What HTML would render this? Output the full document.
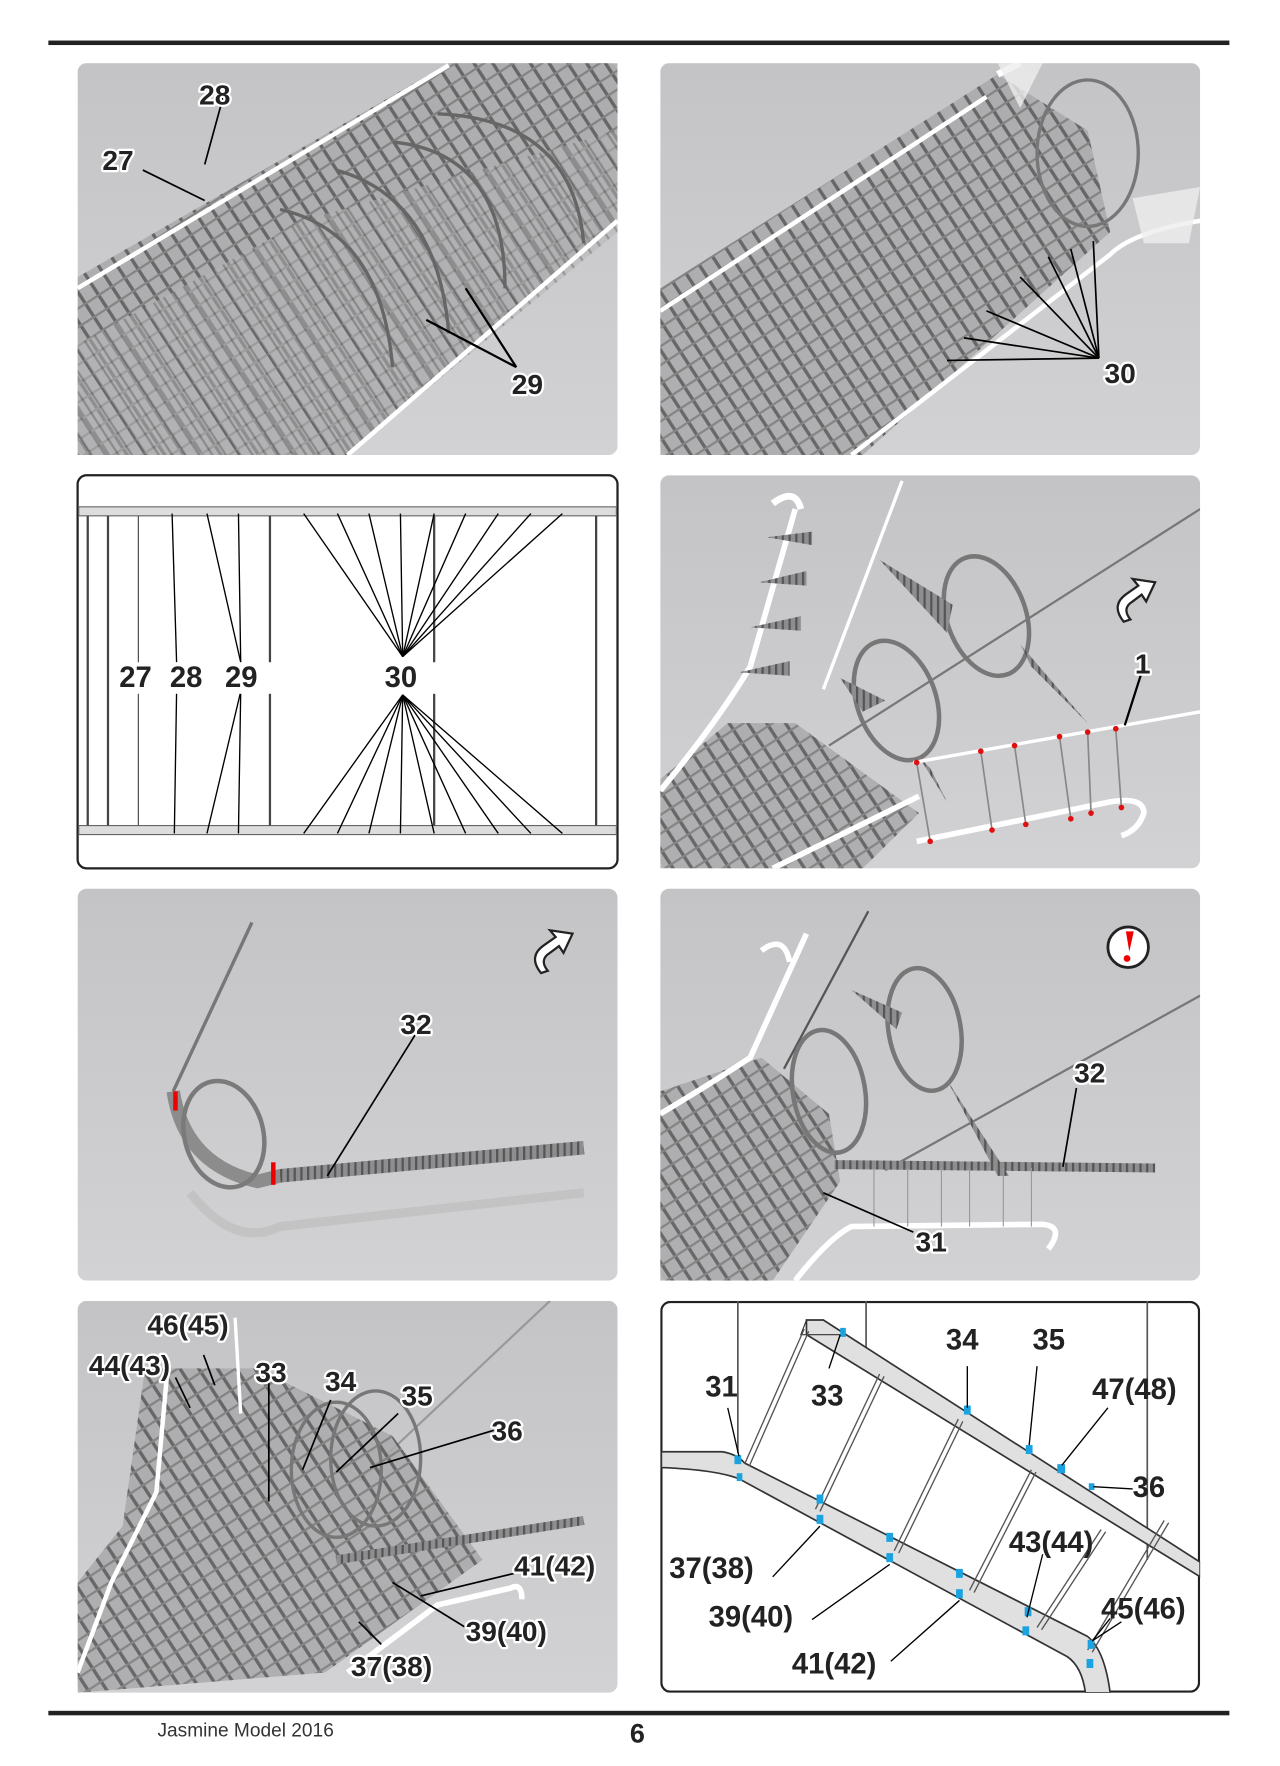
<!DOCTYPE html>
<html><head><meta charset="utf-8"><style>
html,body{margin:0;padding:0;background:#fff;}
svg{display:block;}
.lb{font-family:"Liberation Sans",sans-serif;font-weight:bold;font-size:25px;fill:#222;stroke:#fff;stroke-width:4px;paint-order:stroke;stroke-linejoin:round;}
.dl{font-family:"Liberation Sans",sans-serif;font-weight:bold;font-size:26px;fill:#222;}
</style></head><body>
<svg width="1280" height="1766" viewBox="0 0 1138 1568" preserveAspectRatio="none" xmlns="http://www.w3.org/2000/svg">
<defs>
<linearGradient id="bg" x1="0" y1="0" x2="0" y2="1"><stop offset="0" stop-color="#c4c4c6"/><stop offset="1" stop-color="#d2d2d4"/></linearGradient>
<pattern id="h1" width="14" height="14" patternUnits="userSpaceOnUse" patternTransform="rotate(-33)"><rect width="14" height="14" fill="#a9a9ab"/><rect x="0" width="3" height="14" fill="#555"/><rect y="0" width="14" height="2" fill="#777"/></pattern>
<pattern id="h2" width="10" height="10" patternUnits="userSpaceOnUse" patternTransform="rotate(-33)"><rect width="10" height="10" fill="#b4b4b6"/><rect x="0" width="2" height="10" fill="#666"/></pattern>
<pattern id="tr" width="6" height="6" patternUnits="userSpaceOnUse"><rect width="6" height="6" fill="#8e8e90"/><rect width="2" height="6" fill="#555"/></pattern>
</defs>
<rect width="1138" height="1568" fill="#fff"/>
<rect x="43" y="36" width="1050" height="4" fill="#222"/>
<rect x="43" y="1519" width="1050" height="4" fill="#222"/>
<text x="140" y="1542" font-family="Liberation Sans,sans-serif" font-size="17" fill="#333">Jasmine Model 2016</text>
<text x="560" y="1547" font-family="Liberation Sans,sans-serif" font-weight="bold" font-size="24" fill="#222">6</text>

<!-- Panel 1 -->
<svg x="69" y="56" width="480" height="348" viewBox="0 0 480 348">
<rect width="480" height="348" rx="8" fill="url(#bg)"/>
<polygon points="0,190 330,0 480,0 480,140 240,348 0,348" fill="url(#h1)" opacity="0.85"/>
<polygon points="0,250 200,140 480,60 480,150 240,348 0,348" fill="url(#h2)" opacity="0.5"/>
<path d="M0,200 L330,2" stroke="#fff" stroke-width="4"/>
<path d="M240,348 L480,140" stroke="#fff" stroke-width="4"/>
<g fill="none" stroke="#666" stroke-width="3">
<path d="M230,95 Q320,120 330,240"/><path d="M280,70 Q380,80 380,200"/><path d="M320,45 Q440,50 450,160"/><path d="M180,130 Q270,150 280,270"/>
</g>
<line x1="113" y1="90" x2="130" y2="28" stroke="#000" stroke-width="1.5"/>
<line x1="58" y1="95" x2="113" y2="122" stroke="#000" stroke-width="1.5"/>
<line x1="310" y1="228" x2="390" y2="270" stroke="#000" stroke-width="2"/>
<line x1="345" y1="200" x2="390" y2="270" stroke="#000" stroke-width="2"/>
<text class="lb" x="108" y="37">28</text>
<text class="lb" x="22" y="95">27</text>
<text class="lb" x="386" y="294">29</text>
</svg>

<!-- Panel 2 -->
<svg x="587" y="56" width="480" height="348" viewBox="0 0 480 348">
<rect width="480" height="348" rx="8" fill="url(#bg)"/>
<polygon points="0,200 300,10 380,60 400,150 180,348 0,348" fill="url(#h1)" opacity="0.85"/>
<path d="M0,220 L290,30" stroke="#fff" stroke-width="4"/>
<path d="M300,10 L320,0" stroke="#fff" stroke-width="6"/>
<path d="M170,348 L400,170 Q420,150 480,140" stroke="#fff" stroke-width="4" fill="none"/>
<ellipse cx="380" cy="80" rx="45" ry="65" fill="none" stroke="#777" stroke-width="3"/>
<polygon points="300,0 340,0 320,40" fill="#eee" opacity="0.8"/><polygon points="420,120 480,110 470,160 430,160" fill="#eee" opacity="0.8"/>
<g stroke="#000" stroke-width="1.5">
<line x1="255" y1="264" x2="390" y2="262"/><line x1="270" y1="244" x2="390" y2="262"/><line x1="290" y1="220" x2="390" y2="262"/><line x1="320" y1="190" x2="390" y2="262"/><line x1="345" y1="172" x2="390" y2="262"/><line x1="365" y1="165" x2="390" y2="262"/><line x1="385" y1="158" x2="390" y2="262"/>
</g>
<text class="lb" x="395" y="284">30</text>
</svg>

<!-- Panel 3 diagram -->
<rect x="69" y="422" width="480" height="349" rx="8" fill="#fff" stroke="#222" stroke-width="2"/>
<rect x="70" y="450" width="478" height="8" fill="#ddd" stroke="#666" stroke-width="1"/>
<rect x="70" y="733" width="478" height="8" fill="#ddd" stroke="#666" stroke-width="1"/>
<g stroke="#444" stroke-width="2">
<line x1="78" y1="458" x2="78" y2="733"/><line x1="96" y1="458" x2="96" y2="733"/><line x1="240" y1="458" x2="240" y2="733"/><line x1="386" y1="458" x2="386" y2="733"/><line x1="530" y1="458" x2="530" y2="733"/>
<line x1="123" y1="458" x2="123" y2="733" stroke-width="1"/>
</g>
<g stroke="#000" stroke-width="1.2">
<line x1="157" y1="588" x2="153" y2="456"/><line x1="157" y1="614" x2="155" y2="740"/>
<line x1="214" y1="588" x2="184" y2="456"/><line x1="214" y1="588" x2="212" y2="456"/>
<line x1="214" y1="614" x2="184" y2="740"/><line x1="214" y1="614" x2="212" y2="740"/>
<g>
<line x1="358" y1="583" x2="270" y2="456"/><line x1="358" y1="583" x2="300" y2="456"/><line x1="358" y1="583" x2="328" y2="456"/><line x1="358" y1="583" x2="356" y2="456"/><line x1="358" y1="583" x2="386" y2="456"/><line x1="358" y1="583" x2="414" y2="456"/><line x1="358" y1="583" x2="443" y2="456"/><line x1="358" y1="583" x2="472" y2="456"/><line x1="358" y1="583" x2="500" y2="456"/>
<line x1="358" y1="617" x2="270" y2="740"/><line x1="358" y1="617" x2="300" y2="740"/><line x1="358" y1="617" x2="328" y2="740"/><line x1="358" y1="617" x2="356" y2="740"/><line x1="358" y1="617" x2="386" y2="740"/><line x1="358" y1="617" x2="414" y2="740"/><line x1="358" y1="617" x2="443" y2="740"/><line x1="358" y1="617" x2="472" y2="740"/><line x1="358" y1="617" x2="500" y2="740"/>
</g></g>
<rect x="105" y="588" width="290" height="28" fill="#fff"/>
<text class="dl" x="106" y="610">27</text><text class="dl" x="151" y="610">28</text><text class="dl" x="200" y="610">29</text><text class="dl" x="342" y="610">30</text>

<!-- Panel 4 -->
<svg x="587" y="422" width="480" height="349" viewBox="0 0 480 349">
<rect width="480" height="349" rx="8" fill="url(#bg)"/>
<line x1="150" y1="240" x2="480" y2="30" stroke="#777" stroke-width="2"/>
<polygon points="0,270 60,220 120,220 230,300 180,349 0,349" fill="url(#h1)" opacity="0.85"/>
<path d="M0,280 Q50,220 80,170 L120,30" stroke="#fff" stroke-width="5" fill="none"/>
<path d="M100,25 Q120,10 125,30" stroke="#fff" stroke-width="6" fill="none"/>
<path d="M145,190 L215,5" stroke="#fff" stroke-width="3"/>
<path d="M100,349 Q200,300 230,285" stroke="#fff" stroke-width="5" fill="none"/>
<ellipse cx="210" cy="200" rx="35" ry="55" fill="none" stroke="#777" stroke-width="4" transform="rotate(-20 210 200)"/>
<ellipse cx="290" cy="125" rx="35" ry="55" fill="none" stroke="#777" stroke-width="4" transform="rotate(-20 290 125)"/>
<polygon points="195,75 260,115 255,140" fill="url(#tr)"/><polygon points="320,150 380,220 330,170" fill="url(#tr)"/>
<polygon points="160,180 200,200 180,210" fill="url(#tr)"/><polygon points="230,250 255,290 240,260" fill="url(#tr)"/>
<g fill="url(#tr)"><polygon points="95,55 135,50 135,62"/><polygon points="88,95 130,85 130,98"/><polygon points="80,135 125,125 125,138"/><polygon points="70,175 115,165 115,178"/></g>
<path d="M225,255 L480,210" stroke="#fff" stroke-width="3"/>
<path d="M228,325 L400,290 Q430,285 430,300 Q425,315 410,320" stroke="#fff" stroke-width="5" fill="none"/>
<g stroke="#888" stroke-width="1.5"><line x1="228" y1="255" x2="240" y2="325"/><line x1="285" y1="245" x2="295" y2="315"/><line x1="315" y1="240" x2="325" y2="310"/><line x1="355" y1="232" x2="365" y2="305"/><line x1="380" y1="228" x2="383" y2="300"/><line x1="405" y1="225" x2="410" y2="295"/></g>
<g fill="#e01010"><circle cx="228" cy="255" r="2.5"/><circle cx="285" cy="245" r="2.5"/><circle cx="315" cy="240" r="2.5"/><circle cx="355" cy="232" r="2.5"/><circle cx="380" cy="228" r="2.5"/><circle cx="405" cy="225" r="2.5"/><circle cx="240" cy="325" r="2.5"/><circle cx="295" cy="315" r="2.5"/><circle cx="325" cy="310" r="2.5"/><circle cx="365" cy="305" r="2.5"/><circle cx="383" cy="300" r="2.5"/><circle cx="410" cy="295" r="2.5"/></g>
<line x1="413" y1="222" x2="428" y2="175" stroke="#000" stroke-width="2"/>
<text class="lb" x="422" y="176">1</text>
<path d="M412,130 Q400,115 415,105 L425,98 L420,92 L440,95 L432,112 L428,106 L420,112 Q410,118 418,128 Z" fill="#fff" stroke="#222" stroke-width="2"/>
</svg>

<!-- Panel 5 -->
<svg x="69" y="789" width="480" height="348" viewBox="0 0 480 348">
<rect width="480" height="348" rx="8" fill="url(#bg)"/>
<line x1="155" y1="30" x2="85" y2="180" stroke="#777" stroke-width="3"/>
<path d="M85,180 Q95,245 160,260 L180,255 L450,230" stroke="#8c8c8c" stroke-width="12" fill="none"/>
<path d="M180,255 L450,230" stroke="url(#tr)" stroke-width="12"/>
<ellipse cx="130" cy="218" rx="35" ry="48" fill="none" stroke="#7a7a7a" stroke-width="4" transform="rotate(-15 130 218)"/>
<path d="M100,270 Q140,320 180,300 L450,270" stroke="#bbb" stroke-width="8" fill="none" opacity="0.6"/>
<rect x="85" y="180" width="4" height="17" fill="#e00"/><rect x="172" y="243" width="4" height="20" fill="#e00"/>
<line x1="222" y1="255" x2="300" y2="130" stroke="#000" stroke-width="1.5"/>
<text class="lb" x="287" y="129">32</text>
<path d="M412,75 Q400,60 415,50 L425,43 L420,37 L440,40 L432,57 L428,51 L420,57 Q410,63 418,73 Z" fill="#fff" stroke="#222" stroke-width="2"/>
</svg>

<!-- Panel 6 -->
<svg x="587" y="789" width="480" height="348" viewBox="0 0 480 348">
<rect width="480" height="348" rx="8" fill="url(#bg)"/>
<line x1="200" y1="250" x2="480" y2="95" stroke="#777" stroke-width="2"/>
<polygon points="0,180 90,150 150,200 160,260 100,348 0,348" fill="url(#h1)" opacity="0.85"/>
<path d="M0,200 Q50,170 80,150 L130,40" stroke="#fff" stroke-width="5" fill="none"/>
<path d="M90,55 Q110,40 115,65" stroke="#fff" stroke-width="5" fill="none"/>
<path d="M110,160 L185,20" stroke="#555" stroke-width="2"/>
<ellipse cx="150" cy="180" rx="32" ry="55" fill="none" stroke="#777" stroke-width="4" transform="rotate(-10 150 180)"/>
<ellipse cx="235" cy="125" rx="32" ry="55" fill="none" stroke="#777" stroke-width="4" transform="rotate(-10 235 125)"/>
<polygon points="170,90 215,110 210,125" fill="url(#tr)"/><polygon points="255,170 310,255 300,255" fill="url(#tr)"/>
<path d="M155,245 L440,248" stroke="url(#tr)" stroke-width="8"/>
<path d="M120,348 Q150,310 170,300 L340,298 Q360,300 345,320" stroke="#fff" stroke-width="5" fill="none"/>
<g stroke="#999" stroke-width="1"><line x1="190" y1="248" x2="190" y2="300"/><line x1="220" y1="248" x2="220" y2="300"/><line x1="250" y1="248" x2="250" y2="300"/><line x1="275" y1="248" x2="275" y2="300"/><line x1="305" y1="248" x2="305" y2="300"/><line x1="330" y1="248" x2="330" y2="300"/></g>
<line x1="358" y1="247" x2="370" y2="177" stroke="#000" stroke-width="1.5"/>
<line x1="145" y1="270" x2="225" y2="305" stroke="#000" stroke-width="1.5"/>
<text class="lb" x="368" y="172">32</text>
<text class="lb" x="227" y="322">31</text>
<circle cx="416" cy="52" r="18" fill="#fff" stroke="#222" stroke-width="2.5"/>
<path d="M414,38 L421,38 L417,56 Z" fill="#e00"/><circle cx="415" cy="62" r="3" fill="#e00"/>
</svg>

<!-- Panel 7 -->
<svg x="69" y="1155" width="480" height="348" viewBox="0 0 480 348">
<rect width="480" height="348" rx="8" fill="url(#bg)"/>
<line x1="250" y1="160" x2="420" y2="0" stroke="#999" stroke-width="2"/>
<polygon points="60,60 160,60 280,120 360,230 220,330 0,348 0,250 40,200" fill="url(#h1)" opacity="0.85"/>
<path d="M0,330 L30,250 L70,170 L80,60" stroke="#fff" stroke-width="4" fill="none"/>
<path d="M140,15 L145,100" stroke="#fff" stroke-width="3"/>
<path d="M230,230 L450,195" stroke="url(#tr)" stroke-width="8"/>
<path d="M240,330 L320,270 L385,255 Q395,250 395,265" stroke="#fff" stroke-width="5" fill="none"/>
<ellipse cx="230" cy="150" rx="40" ry="60" fill="none" stroke="#777" stroke-width="3"/>
<ellipse cx="265" cy="140" rx="40" ry="60" fill="none" stroke="#777" stroke-width="3"/>
<g stroke="#000" stroke-width="1.5">
<line x1="122" y1="75" x2="112" y2="48"/><line x1="100" y1="95" x2="87" y2="68"/>
<line x1="170" y1="178" x2="170" y2="72"/><line x1="200" y1="150" x2="225" y2="88"/>
<line x1="230" y1="152" x2="285" y2="100"/><line x1="260" y1="148" x2="370" y2="115"/>
<line x1="305" y1="262" x2="388" y2="242"/><line x1="280" y1="250" x2="345" y2="290"/><line x1="250" y1="285" x2="270" y2="305"/>
</g>
<text class="lb" x="62" y="30">46(45)</text>
<text class="lb" x="10" y="66">44(43)</text>
<text class="lb" x="158" y="72">33</text>
<text class="lb" x="220" y="80">34</text>
<text class="lb" x="288" y="93">35</text>
<text class="lb" x="368" y="124">36</text>
<text class="lb" x="388" y="244">41(42)</text>
<text class="lb" x="345" y="302">39(40)</text>
<text class="lb" x="243" y="333">37(38)</text>
</svg>

<!-- Panel 8 diagram -->
<svg x="587" y="1155" width="480" height="348" viewBox="0 0 480 348">
<rect x="1" y="1" width="478" height="346" rx="8" fill="#fff" stroke="#222" stroke-width="2"/>
<g stroke="#555" stroke-width="1.5"><line x1="69" y1="0" x2="69" y2="135"/><line x1="183" y1="0" x2="183" y2="55"/><line x1="433" y1="0" x2="433" y2="230"/></g>
<path d="M1,134 L55,134 Q68,136 75,144 L380,298 Q395,310 400,348 L378,348 Q375,325 362,316 L70,158 Q50,150 1,148 Z" fill="#e0e0e0" stroke="#333" stroke-width="1.5"/>
<path d="M130,17 L145,17 L480,232 L480,245 L130,30 Z" fill="#e0e0e0" stroke="#333" stroke-width="1.5"/>
<path d="M130,17 L125,30 L160,30" fill="none" stroke="#333" stroke-width="1"/>
<g stroke="#555" stroke-width="1.2" fill="none">
<path d="M75,145 L128,25 M79,147 L132,27"/>
<path d="M138,185 L195,65 M142,187 L199,67"/>
<path d="M208,222 L265,105 M212,224 L269,107"/>
<path d="M275,257 L330,150 M279,259 L334,152"/>
<path d="M335,290 L392,203 M339,292 L396,205"/>
<path d="M380,310 L448,195 M384,312 L452,197"/>
</g>
<g fill="#1aa3e0">
<rect x="66" y="137" width="6" height="8"/><rect x="68" y="153" width="5" height="7"/>
<rect x="139" y="172" width="6" height="8"/><rect x="139" y="190" width="6" height="8"/>
<rect x="201" y="206" width="6" height="8"/><rect x="201" y="224" width="6" height="8"/>
<rect x="263" y="238" width="6" height="8"/><rect x="263" y="256" width="6" height="8"/>
<rect x="324" y="272" width="6" height="8"/><rect x="322" y="289" width="6" height="8"/>
<rect x="380" y="301" width="6" height="8"/><rect x="379" y="318" width="6" height="8"/>
<rect x="160" y="24" width="5" height="8"/>
<rect x="270" y="93" width="6" height="8"/><rect x="325" y="128" width="6" height="8"/><rect x="353" y="145" width="7" height="8"/><rect x="381" y="162" width="5" height="6"/>
</g>
<g stroke="#000" stroke-width="1.2">
<line x1="60" y1="95" x2="70" y2="138"/><line x1="160" y1="30" x2="150" y2="60"/>
<line x1="273" y1="95" x2="273" y2="58"/><line x1="328" y1="128" x2="335" y2="58"/>
<line x1="357" y1="146" x2="398" y2="95"/><line x1="385" y1="165" x2="420" y2="167"/>
<line x1="142" y1="200" x2="100" y2="245"/><line x1="204" y1="234" x2="135" y2="283"/><line x1="266" y1="266" x2="205" y2="320"/>
<line x1="326" y1="281" x2="340" y2="225"/><line x1="384" y1="302" x2="410" y2="285"/><line x1="384" y1="302" x2="400" y2="282"/>
</g>
<text class="dl" x="40" y="85">31</text>
<text class="dl" x="134" y="93">33</text>
<text class="dl" x="254" y="43">34</text>
<text class="dl" x="331" y="43">35</text>
<text class="dl" x="384" y="87">47(48)</text>
<text class="dl" x="420" y="174">36</text>
<text class="dl" x="310" y="223">43(44)</text>
<text class="dl" x="8" y="246">37(38)</text>
<text class="dl" x="43" y="289">39(40)</text>
<text class="dl" x="117" y="331">41(42)</text>
<text class="dl" x="392" y="282">45(46)</text>
</svg>
</svg>
</body></html>
